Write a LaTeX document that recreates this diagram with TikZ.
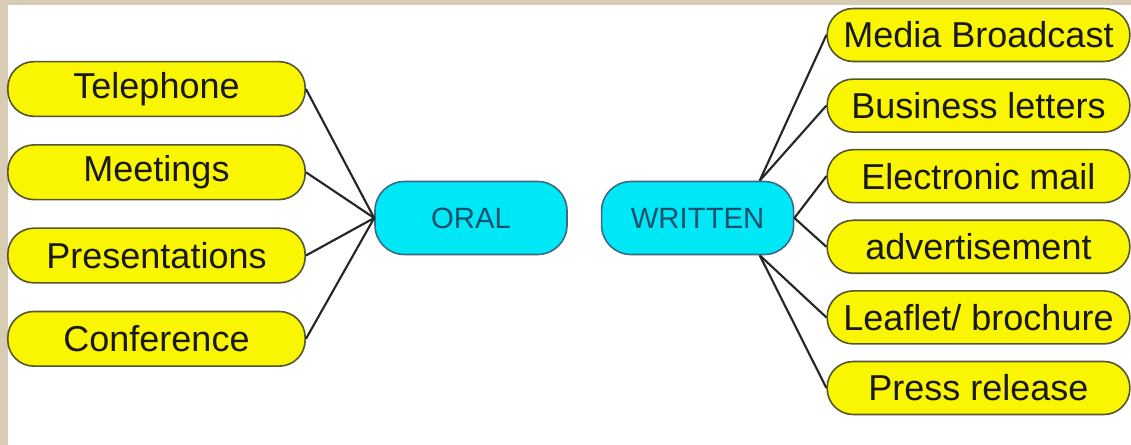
\documentclass[tikz,border=0pt]{standalone}
\usepackage{fontspec}
\setmainfont{Liberation Sans}
\usepackage{tikz}
\usetikzlibrary{positioning}

\definecolor{leafyellow}{RGB}{250,245,0}
\definecolor{leafline}{RGB}{85,85,50}
\definecolor{hubcyan}{RGB}{0,232,245}
\definecolor{hubtext}{RGB}{25,80,110}
\definecolor{framebeige}{RGB}{216,204,180}

\begin{document}
\begin{tikzpicture}[
    x=0.75pt, y=-0.75pt,
    leaf/.style={rectangle, draw=leafline, line width=1.2pt, fill=leafyellow, rounded corners=19.5pt, inner sep=0pt, minimum height=41pt, text=black!90, font=\fontsize{27}{30}\selectfont},
    hub/.style={rectangle, draw=hubtext!85, line width=1.2pt, fill=hubcyan, rounded corners=22pt, inner sep=0pt, minimum width=144pt, minimum height=54.75pt, text=hubtext, font=\fontsize{22}{26}\selectfont},
    link/.style={draw=black!85, line width=1.6pt}
]
    \useasboundingbox (0,0) rectangle (1131,445);
    % Hintergrund mit Rand
    \fill[white] (0,0) rectangle (1131,445);
    \fill[framebeige] (0,0) rectangle (8,445);
    \fill[framebeige] (0,0) rectangle (1131,5);

    % zwei Hauptknoten
    \node[hub] (oral) at (471,218) {ORAL};
    \node[hub, right=24.75pt of oral] (written) {WRITTEN};

    % linke Seite
    \node[leaf, minimum width=223pt] (tel) at (156.5,89) {Telephone};
    \node[leaf, minimum width=223pt, below=20.25pt of tel] (meet) {Meetings};
    \node[leaf, minimum width=223pt, below=20.25pt of meet] (pres) {Presentations};
    \node[leaf, minimum width=223pt, below=20.25pt of pres] (conf) {Conference};

    % rechte Seite
    \node[leaf, minimum width=227pt, minimum height=39.75pt] (media) at (978.5,35) {Media Broadcast};
    \node[leaf, minimum width=227pt, minimum height=39.75pt, below=12pt of media] (letters) {Business letters};
    \node[leaf, minimum width=227pt, minimum height=39.75pt, below=12pt of letters] (email) {Electronic mail};
    \node[leaf, minimum width=227pt, minimum height=39.75pt, below=12pt of email] (advert) {advertisement};
    \node[leaf, minimum width=227pt, minimum height=39.75pt, below=12pt of advert] (leaflet) {Leaflet/ brochure};
    \node[leaf, minimum width=227pt, minimum height=39.75pt, below=12pt of leaflet] (press) {Press release};

    % Verbindungen
    \foreach \n in {tel, meet, pres, conf}
        \draw[link] (\n.east) -- (oral.west);
    \draw[link] (written.31) -- (media.west);
    \draw[link] (written.31) -- (letters.west);
    \draw[link] (written.east) -- (email.west);
    \draw[link] (written.east) -- (advert.west);
    \draw[link] (written.-31) -- (leaflet.west);
    \draw[link] (written.-31) -- (press.west);
\end{tikzpicture}
\end{document}
